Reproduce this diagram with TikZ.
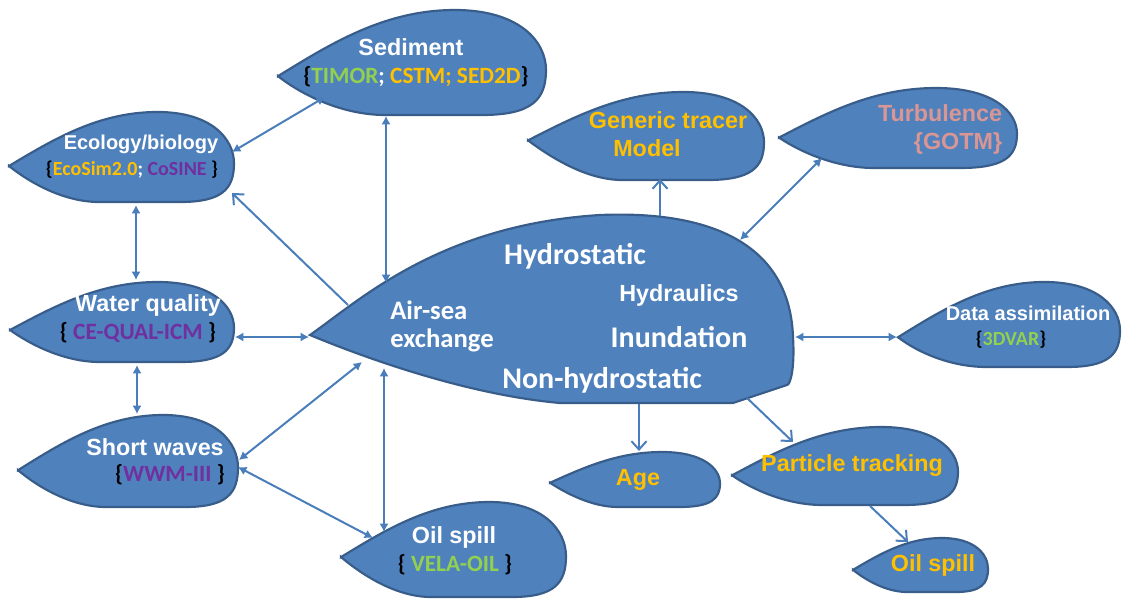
\documentclass[tikz,border=0pt]{standalone}
\usepackage{fontspec}
\setmainfont{Liberation Sans}
\newfontfamily\calfont{Carlito}
\usepackage{tikz}
\usetikzlibrary{calc,shapes,arrows,arrows.meta}

\definecolor{blobfill}{RGB}{79,129,189}
\definecolor{blobline}{RGB}{56,93,138}
\definecolor{linkblue}{RGB}{74,126,187}
\definecolor{gold}{RGB}{255,192,0}
\definecolor{lgreen}{RGB}{146,208,80}
\definecolor{purp}{RGB}{112,48,160}
\definecolor{rosy}{RGB}{217,150,148}

\tikzset{
  blob/.style={fill=blobfill, draw=blobline, line width=1.3pt},
  lbl/.style={text=white, inner sep=0pt, font=\bfseries\fontsize{14}{16}\selectfont},
  sub/.style={text=white, inner sep=0pt, font=\calfont\bfseries\fontsize{14}{16}\selectfont},
  big/.style={text=white, inner sep=0pt, font=\calfont\bfseries\fontsize{18}{20}\selectfont},
  link/.style={draw=linkblue, line width=1.2pt},
  dbl/.style={link, {Latex[length=5pt,width=5.5pt]}-{Latex[length=5pt,width=5.5pt]}},
  one/.style={link, -{Straight Barb[length=5pt,width=9pt]}}
}

\newcommand{\lb}{\textcolor{black}{\{}}
\newcommand{\rb}{\textcolor{black}{\}}}

% x1 y1 x2 y2 tip
\newcommand{\drawblob}[5]{%
  \pgfmathsetmacro{\bw}{#3-#1}%
  \pgfmathsetmacro{\bh}{#4-#2}%
  \draw[blob, shift={(#1,#2)}, xscale=\bw, yscale=\bh]
    (0,#5) .. controls (.2,#5*.5) and (.4,0) .. (.66,0)
    .. controls (.9,0) and (1,.3) .. (1,.57)
    .. controls (1,.85) and (.95,1) .. (.76,1) -- (.4,1)
    .. controls (.25,1) and (.1,#5+.2) .. cycle;}

\begin{document}
\begin{tikzpicture}[x=0.6pt, y=-0.6pt]
  \useasboundingbox (0,0) rectangle (1122,599);

  % blobs
  \drawblob{278}{10}{546}{115}{.63}
  \drawblob{9}{112}{234}{202}{.6}
  \drawblob{10}{282}{234}{362}{.6}
  \drawblob{18}{415}{238}{507}{.6}
  \drawblob{341}{502}{566}{597}{.58}
  \drawblob{528}{92}{764}{180}{.55}
  \drawblob{779}{88}{1017}{168}{.62}
  \drawblob{898}{282}{1120}{367}{.65}
  \drawblob{550}{452}{720}{507}{.56}
  \drawblob{732}{427}{958}{505}{.62}
  \drawblob{853}{538}{988}{592}{.59}
  \draw[blob] (310,335) .. controls (360,300) and (440,225) .. (600,215)
    .. controls (720,210) and (790,250) .. (793,337)
    .. controls (795,370) and (790,385) .. (787,385) -- (733,403) -- (560,403)
    .. controls (470,395) and (370,360) .. cycle;

  % labels
  \node[lbl] (sed) at (411,47) {Sediment};
  \node[sub] (sedsub) at (416,77) {\lb\textcolor{lgreen}{TIMOR}; \textcolor{gold}{CSTM; SED2D}\rb};
  \node[lbl, font=\bfseries\fontsize{12}{14}\selectfont] (eco) at (141,144) {Ecology/biology};
  \node[sub, font=\calfont\bfseries\fontsize{12}{14}\selectfont] (ecosub) at (132,170)
    {\lb\textcolor{gold}{EcoSim2.0}; \textcolor{purp}{CoSINE} \rb};
  \node[lbl] (wq) at (148,305) {Water quality};
  \node[sub] (wqsub) at (138,333) {\lb{} \textcolor{purp}{CE-QUAL-ICM} \rb};
  \node[lbl] (sw) at (155,447) {Short waves};
  \node[sub] (swsub) at (170,475) {\lb\textcolor{purp}{WWM-III} \rb};
  \node[lbl] (oil) at (454,537) {Oil spill};
  \node[sub] (oilsub) at (455,565) {\lb{} \textcolor{lgreen}{VELA-OIL} \rb};
  \node[lbl, text=gold] (gt) at (668,120) {Generic tracer};
  \node[lbl, text=gold] (gtm) at (647,148) {Model};
  \node[lbl, text=rosy] (turb) at (940,113) {Turbulence};
  \node[lbl, text=rosy] (turbsub) at (958,143) {\{GOTM\}};
  \node[lbl, font=\bfseries\fontsize{12}{14}\selectfont] (da) at (1028,313) {Data assimilation};
  \node[sub, font=\calfont\bfseries\fontsize{12}{14}\selectfont] (dasub) at (1011,340)
    {\lb\textcolor{lgreen}{3DVAR}\rb};
  \node[lbl, text=gold] (age) at (638,480) {Age};
  \node[lbl, text=gold] (pt) at (852,466) {Particle tracking};
  \node[lbl, text=gold] (oil2) at (933,565) {Oil spill};
  \node[big] (hs) at (575,256) {Hydrostatic};
  \node[big, font=\calfont\bfseries\fontsize{16}{16.8}\selectfont, align=left, anchor=west]
    (as) at (390,326) {Air-sea\\exchange};
  \node[lbl] (hyd) at (679,295) {Hydraulics};
  \node[big] (inu) at (679,337) {Inundation};
  \node[big] (nhs) at (602,380) {Non-hydrostatic};

  % link ends
  \coordinate (eco1) at (232,152); \coordinate (sed1) at (325,97);
  \coordinate (sed2) at (386,116); \coordinate (main1) at (386,283);
  \coordinate (main2) at (348,305); \coordinate (eco2) at (232,193);
  \coordinate (eco3) at (136,205); \coordinate (wq1) at (136,280);
  \coordinate (wq2) at (235,337); \coordinate (main3) at (309,337);
  \coordinate (wq3) at (137,365); \coordinate (sw1) at (137,414);
  \coordinate (sw2) at (239,460); \coordinate (main4) at (362,362);
  \coordinate (sw3) at (238,467); \coordinate (oil1) at (373,538);
  \coordinate (main5) at (384,368); \coordinate (oil3) at (384,532);
  \coordinate (main6) at (660,216); \coordinate (gt1) at (660,179);
  \coordinate (main7) at (740,240); \coordinate (turb1) at (822,158);
  \coordinate (main8) at (795,337); \coordinate (da1) at (897,337);
  \coordinate (main9) at (639,404); \coordinate (age1) at (639,451);
  \coordinate (main10) at (747,398); \coordinate (pt1) at (793,442);
  \coordinate (pt2) at (870,506); \coordinate (oil4) at (908,542);

  \foreach \a/\b in {eco1/sed1, sed2/main1, eco3/wq1, wq2/main3, wq3/sw1,
      sw2/main4, sw3/oil1, main5/oil3, main7/turb1, main8/da1}
    \draw[dbl] (\a) -- (\b);
  \foreach \a/\b in {main2/eco2, main6/gt1, main9/age1, main10/pt1, pt2/oil4}
    \draw[one] (\a) -- (\b);
\end{tikzpicture}
\end{document}
